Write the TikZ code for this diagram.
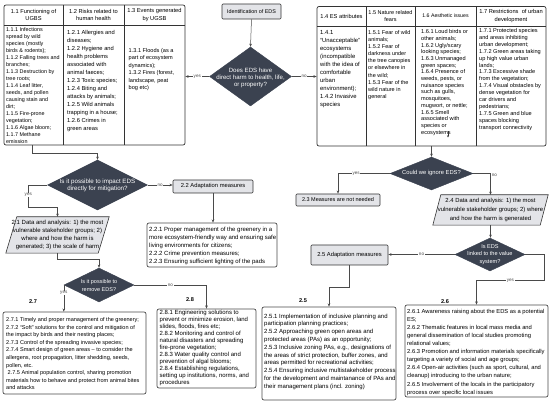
\documentclass[tikz,border=0pt]{standalone}
\usepackage{fontspec}
\setmainfont{Liberation Sans}
\usetikzlibrary{shapes.geometric,arrows.meta,backgrounds,calc}
\newcommand{\fsz}[2]{\fontsize{#1}{#2}\selectfont}
\definecolor{diafill}{HTML}{3B4250}
\definecolor{boxgray}{HTML}{E3E4E8}
\definecolor{framec}{HTML}{333333}
\definecolor{linec}{HTML}{4A4A4A}
\begin{document}
\begin{tikzpicture}[x=1pt,y=-1pt,
  tabframe/.style={draw=framec, line width=0.7pt, rounded corners=2pt, inner sep=0},
  tabline/.style={draw=framec, line width=0.6pt},
  hdr/.style={align=center, inner sep=0, font={\fsz{5.7}{7.6}}},
  cell/.style={align=left, inner sep=0, anchor=west},
  graybox/.style={draw=framec, fill=boxgray, line width=0.6pt, rounded corners=1pt, inner sep=0, font={\fsz{5.7}{7}}},
  dia/.style={diamond, draw=diafill, fill=diafill, inner sep=0},
  dtext/.style={align=center, inner sep=0, text=white},
  ptext/.style={align=center, inner sep=0},
  pgram/.style={draw=framec, fill=boxgray, line width=0.6pt},
  cbox/.style={draw=linec, line width=0.7pt, rounded corners=2pt, inner sep=0},
  arr/.style={draw=linec, line width=0.5pt, -{Stealth[length=3.2pt,width=2.6pt]}},
  lbl/.style={fill=white, inner sep=0.6pt, font={\fsz{4.6}{5}}, text=linec},
  sec/.style={inner sep=0, font={\fsz{5.6}{6}\bfseries}}
]
\begin{scope}[on background layer]
\fill[white] (0,0) rectangle (550,403);
\end{scope}
\useasboundingbox (0,0) rectangle (550,403);

% ---------- left table ----------
\node[tabframe, minimum width=181pt, minimum height=140pt] (tabL) at (94.5,75) {};
\draw[tabline] (63,5) -- (63,145);
\draw[tabline] (124,5) -- (124,145);
\draw[tabline] (4,25) -- (185,25);
\node[hdr] (h11) at (33.5,15) {1.1 Functioning of\\UGBS};
\node[hdr] (h12) at (93.5,15) {1.2 Risks related to\\human health};
\node[hdr] (h13) at (154.5,15) {1.3 Events generated\\by UGSB};
\node[cell, font={\fsz{5.4}{7.05}}] (t11) at (6,85.6) {1.1.1 Infections\\spread by wild\\species (mostly\\birds \& rodents);\\1.1.2 Falling trees and\\branches;\\1.1.3 Destruction by\\tree roots;\\1.1.4 Leaf litter,\\seeds, and pollen\\causing stain and\\dirt;\\1.1.5 Fire-prone\\vegetation;\\1.1.6 Algae bloom;\\1.1.7 Methane\\emission};
\node[cell, font={\fsz{5.75}{8}}] (t12) at (67,81.5) {1.2.1 Allergies and\\diseases;\\1.2.2 Hygiene and\\health problems\\associated with\\animal faeces;\\1.2.3 Toxic species;\\1.2.4 Biting and\\attacks by animals;\\1.2.5 Wild animals\\trapping in a house;\\1.2.6 Crimes in\\green areas};
\node[cell, font={\fsz{5.6}{7.4}}] (t13) at (128.5,69.5) {1.3.1 Floods (as a\\part of ecosystem\\dynamics);\\1.3.2 Fires (forest,\\landscape, peat\\bog etc)};

% ---------- right table ----------
\node[tabframe, minimum width=229pt, minimum height=139.5pt] (tabR) at (431.5,76.25) {};
\draw[tabline] (366,6.5) -- (366,146);
\draw[tabline] (415,6.5) -- (415,146);
\draw[tabline] (476,6.5) -- (476,146);
\draw[tabline] (317,26) -- (546,26);
\node[hdr] (h14) at (341.5,16) {1.4 ES attributes};
\node[hdr, font={\fsz{5.5}{7.6}}] (h15) at (390.5,16) {1.5 Nature related\\fears};
\node[hdr, font={\fsz{5.2}{6}}] (h16) at (445.5,16) {1.6 Aesthetic issues};
\node[hdr] (h17) at (511,16) {1.7 Restrictions\ \ of urban\\development};
\node[cell, font={\fsz{5.9}{8}}] (t14) at (320,69) {1.4.1\\“Unacceptable”\\ecosystems\\(incompatible\\with the idea of\\comfortable\\urban\\environment);\\1.4.2 Invasive\\species};
\node[cell, font={\fsz{5.5}{7.1}}] (t15) at (368,65) {1.5.1 Fear of wild\\animals;\\1.5.2 Fear of\\darkness under\\the tree canopies\\or elsewhere in\\the wild;\\1.5.3 Fear of the\\wild nature in\\general};
\node[cell, font={\fsz{5.6}{6.7}}] (t16) at (421,82.5) {1.6.1 Loud birds or\\other animals;\\1.6.2 Ugly/scary\\looking species;\\1.6.3 Unmanaged\\green spaces;\\1.6.4 Presence of\\weeds, pests, or\\nuisance species\\such as gulls,\\mosquitoes,\\mugwort, or nettle;\\1.6.5 Smell\\associated with\\species or\\ecosystems};
\node[cell, font={\fsz{5.6}{6.95}}] (t17) at (479,79.5) {1.7.1 Protected species\\and areas inhibiting\\urban development;\\1.7.2 Green areas taking\\up high value urban\\lands;\\1.7.3 Excessive shade\\from the vegetation;\\1.7.4 Visual obstacles by\\dense vegetation for\\car drivers and\\pedestrians;\\1.7.5 Green and blue\\spaces blocking\\transport connectivity};
\coordinate (sa1) at (448,131.5);
\coordinate (sa2) at (448,137.5);
\draw[draw=framec, line width=0.5pt, -{Stealth[length=2.2pt,width=2pt]}] (sa1) -- (sa2);

% ---------- centre ----------
\node[graybox, minimum width=59pt, minimum height=15pt, font={\fsz{5.4}{6}}] (ident) at (251.5,11.5) {Identification of EDS};
\node[dia, minimum width=82pt, minimum height=59pt] (d1) at (250.5,76.5) {};
\node[dtext, font={\fsz{6.1}{7.2}}] (d1t) at (250.5,77.7) {Does EDS have\\direct harm to health, life,\\or property?};

% ---------- left branch ----------
\node[dia, minimum width=100pt, minimum height=50pt] (d2) at (97.5,185) {};
\node[dtext, font={\fsz{6.2}{7.3}}] (d2t) at (97.5,185.3) {Is it possible to impact EDS\\directly for mitigation?};
\node[graybox, minimum width=80pt, minimum height=13pt, font={\fsz{5.8}{6}}] (a22) at (213,186.5) {2.2 Adaptation measures};
\node[cbox, minimum width=130pt, minimum height=44pt] (c22) at (212,245) {};
\node[cell, font={\fsz{6.0}{8.1}}] (t22) at (149,245.7) {2.2.1 Proper management of the greenery in a\\more ecosystem-friendly way and ensuring safe\\living environments for citizens;\\2.2.2 Crime prevention measures;\\2.2.3 Ensuring sufficient lighting of the pads};
\node[ptext, minimum width=92pt, minimum height=36pt, font={\fsz{6.0}{7.8}}] (p21) at (57.5,235) {2.1 Data and analysis: 1) the most\\vulnerable stakeholder groups; 2)\\where and how the harm is\\generated; 3) the scale of harm};
\begin{scope}[on background layer]
\draw[pgram] ([xshift=5.5pt]p21.north west) -- ([xshift=5.5pt]p21.north east) -- ([xshift=-5.5pt]p21.south east) -- ([xshift=-5.5pt]p21.south west) -- cycle;
\end{scope}
\node[dia, minimum width=70pt, minimum height=34pt] (d3) at (99,285) {};
\node[dtext, font={\fsz{5.5}{7.4}}] (d3t) at (99,285.5) {Is it possible to\\remove EDS?};
\node[sec] (l27) at (33,302) {2.7};
\node[sec] (l28) at (190,300) {2.8};
\node[cbox, minimum width=143pt, minimum height=82pt] (c27) at (74.5,353) {};
\node[cell, font={\fsz{5.55}{7.6}}] (t27) at (6,353.8) {2.7.1 Timely and proper management of the greenery;\\2.7.2 “Soft” solutions for the control and mitigation of\\the impact by birds and their nesting places;\\2.7.3 Control of the spreading invasive species;\\2.7.4 Smart design of green areas – to consider the\\allergens, root propagation, litter shedding, seeds,\\pollen, etc.\\\ 2.7.5 Animal population control, sharing promotion\\materials how to behave and protect from animal bites\\and attacks};
\node[cbox, minimum width=99pt, minimum height=79pt] (c28) at (206.5,348.5) {};
\node[cell, font={\fsz{6.0}{7.05}}] (t28) at (159.5,348) {2.8.1 Engineering solutions to\\prevent or minimize erosion, land\\slides, floods, fires etc;\\2.8.2 Monitoring and control of\\natural disasters and spreading\\fire-prone vegetation;\\2.8.3 Water quality control and\\prevention of algal blooms;\\2.8.4 Establishing regulations,\\setting up institutions, norms, and\\procedures};

% ---------- right branch ----------
\node[dia, minimum width=83pt, minimum height=33pt] (dC) at (431.5,173.5) {};
\node[dtext, font={\fsz{5.8}{7}}] (dCt) at (431.5,173.5) {Could we ignore EDS?};
\node[graybox, minimum width=84pt, minimum height=12pt, font={\fsz{5.5}{6}}] (c23) at (338,200) {2.3 Measures are not needed};
\node[ptext, minimum width=107pt, minimum height=30pt, font={\fsz{5.9}{8.7}}] (p24) at (490.5,210) {2.4 Data and analysis: 1) the most\\vulnerable stakeholder groups; 2) where\\and how the harm is generated};
\begin{scope}[on background layer]
\draw[pgram] ([xshift=4pt]p24.north west) -- ([xshift=4pt]p24.north east) -- ([xshift=-4pt]p24.south east) -- ([xshift=-4pt]p24.south west) -- cycle;
\end{scope}
\node[dia, minimum width=70pt, minimum height=33pt] (d4) at (490,254.5) {};
\node[dtext, font={\fsz{5.6}{7.2}}] (d4t) at (490,254.5) {Is EDS\\linked to the value\\system?};
\node[graybox, minimum width=77pt, minimum height=20pt, font={\fsz{5.8}{6}}] (a25) at (349.5,255) {2.5 Adaptation measures};
\node[sec] (l25) at (303,301) {2.5};
\node[sec] (l26) at (445,302) {2.6};
\node[cbox, minimum width=134pt, minimum height=93pt] (c25) at (329,353.5) {};
\node[cell, font={\fsz{6.0}{7.8}}] (t25) at (264,351.7) {2.5.1 Implementation of inclusive planning and\\participation planning practices;\\2.5.2 Approaching green open areas and\\protected areas (PAs) as an opportunity;\\2.5.3 Inclusive zoning PAs, e.g., designations of\\the areas of strict protection, buffer zones, and\\areas permitted for recreational activities;\\2.5.4 Ensuring inclusive multistakeholder process\\for the development and maintanance of PAs and\\their management plans (incl. zoning)};
\node[cbox, minimum width=143pt, minimum height=92pt] (c26) at (476.5,351) {};
\node[cell, font={\fsz{5.8}{8.1}}] (t26) at (407,352.2) {2.6.1 Awareness raising about the EDS as a potential\\ES;\\2.6.2 Thematic features in local mass media and\\general dissemination of local studies promoting\\relational values;\\2.6.3 Promotion and information materials specifically\\targeting a variety of social and age groups;\\2.6.4 Open-air activities (such as sport, cultural, and\\cleanup) introducing to the urban nature;\\2.6.5 Involvement of the locals in the participatory\\process over specific local issues};

% ---------- connectors ----------
\draw[arr] (ident.south) -- (d1.north);
\draw[arr] (d1.west) -- node[lbl]{yes} (d1.west -| tabL.east);
\draw[arr] (d1.east) -- node[lbl]{no} (d1.east -| tabR.west);
\draw[arr] ($(tabL.south west)+(29,0)$) -- ++(0,8) -| (d2.north);
\draw[arr] (d2.east) -- node[lbl]{no} (d2.east -| a22.west);
\draw[arr] (a22.south) -- (a22.south |- c22.north);
\draw[arr] (d2.west) -- ++(-19,0) -- node[lbl,pos=0.45]{yes} ++(0,22) -| (p21.north);
\draw[arr] (p21.south) -- ++(0,6) -| (d3.north);
\draw[arr] (d3.east) -- node[lbl,pos=0.5]{no} (d3.east -| c28.north) -- (c28.north);
\draw[arr] (d3.west) -- node[lbl,pos=0.3]{yes} (d3.west |- c27.north);
\draw[arr] (tabR.south) -- (tabR.south |- dC.north);
\draw[arr] (dC.west) -- node[lbl,pos=0.65]{yes} (dC.west -| c23.north) -- (c23.north);
\draw[arr] (dC.east) -| node[lbl,pos=0.5,anchor=north west,fill=none,xshift=0.5pt]{no} (p24.north);
\draw[arr] (p24.south) -- (p24.south |- d4.north);
\draw[arr] (d4.west) -- node[lbl]{no} (d4.west -| a25.east);
\draw[arr] (d4.east) -- ++(19,0) |- node[lbl,pos=0.75]{yes} ($(c26.north)+(0,-24)$) -- (c26.north);
\draw[arr] (a25.south) -- ++(0,22) -| (c25.north);
\end{tikzpicture}
\end{document}
